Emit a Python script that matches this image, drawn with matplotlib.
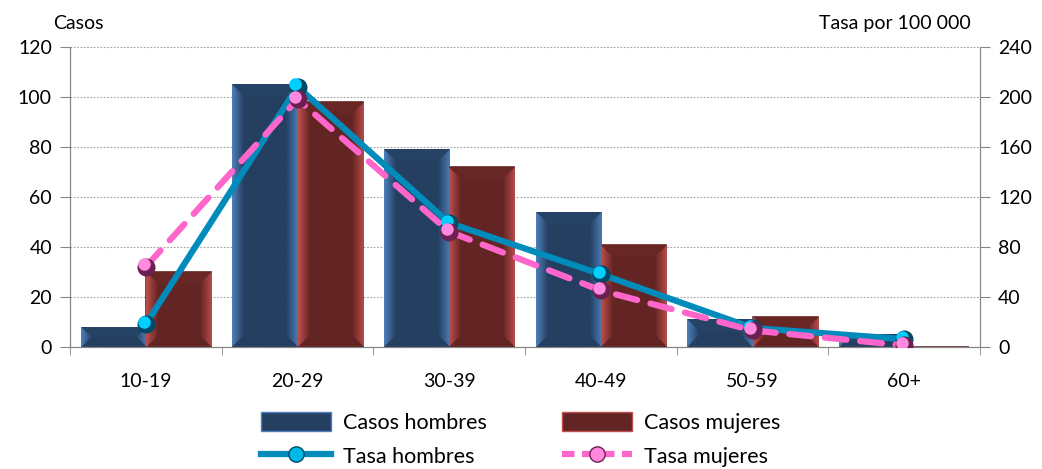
import matplotlib.pyplot as plt
import numpy as np
from matplotlib.lines import Line2D
from matplotlib.patches import Patch
from matplotlib.colors import to_rgb
from matplotlib.transforms import ScaledTranslation

plt.rcParams['font.family'] = ['Lato', 'DejaVu Sans']

# Data
grupos = ['10-19', '20-29', '30-39', '40-49', '50-59', '60+']
casos_hombres = [8, 105, 79, 54, 11, 5]
casos_mujeres = [30, 98, 72, 40.5, 12, 0]
tasa_hombres = [18, 208, 99, 58, 15, 6]
tasa_mujeres = [64, 198, 92, 45, 13, 1]

fig = plt.figure(figsize=(10.42, 4.69), dpi=100)
ax = fig.add_axes([0.0672, 0.2608, 0.8733, 0.6396])
x = np.arange(len(grupos))
w = 0.43

bars_h = ax.bar(x - w / 2, casos_hombres, w, color='#243F60', zorder=2)
bars_m = ax.bar(x + w / 2, casos_mujeres, w, color='#632523', zorder=2,
                edgecolor='#632523', linewidth=1.2)

ax.set_xlim(-0.5, len(grupos) - 0.5)
ax.set_ylim(0, 120)
ax.set_yticks(np.arange(0, 121, 20))
ax.yaxis.grid(True, linestyle=(0, (1.5, 1.5)), color='#A0A0A0', linewidth=0.8)
ax.set_axisbelow(True)
ax.set_xticks(x)
ax.set_xticklabels(grupos)
ax.set_xticks(np.arange(-0.5, len(grupos)), minor=True)
ax.tick_params(axis='x', which='major', length=0, pad=19, labelsize=14)
ax.tick_params(axis='x', which='minor', length=6, color='#868686')
ax.tick_params(axis='y', length=7, color='#868686', labelsize=14, pad=6)
for s in ['left', 'right', 'bottom']:
    ax.spines[s].set_color('#868686')
ax.spines['top'].set_visible(False)


def bevel(bar, face, light, top):
    # shade the bar like a beveled block: bright sides fading to the face color
    x0, y0 = bar.get_x(), bar.get_y()
    x1, y1 = x0 + bar.get_width(), y0 + bar.get_height()
    if y1 - y0 <= 0:
        return
    (px0, py0), (px1, py1) = ax.transData.transform([(x0, y0), (x1, y1)])
    wp, hp = px1 - px0, py1 - py0
    nx, ny = 130, max(int(hp * 2), 2)
    u = (np.arange(nx) + 0.5) / nx * wp
    v = (np.arange(ny) + 0.5) / ny * hp
    U, V = np.meshgrid(u, v[::-1])
    dl, dr, db, dt = U, wp - U, V, hp - V
    d = 12.0
    img = np.empty((ny, nx, 3))
    img[:] = to_rgb(face)
    fc, lc, tc = np.array(to_rgb(face)), np.array(to_rgb(light)), np.array(to_rgb(top))
    m = np.minimum(np.minimum(dl, dr), np.minimum(db, dt))
    left = (dl == m) & (dl < d)
    right = (dr == m) & (dr < d) & ~left
    topm = (dt == m) & (dt < d) & ~left & ~right
    t = np.clip(dl / d, 0, 1)[..., None]
    img = np.where(left[..., None], lc * (1 - t) + fc * t, img)
    t = np.clip(dr / d, 0, 1)[..., None]
    img = np.where(right[..., None], lc * (1 - t) * 0.9 + fc * (t + 0.1 * (1 - t)), img)
    img = np.where(topm[..., None], tc, img)
    ax.imshow(img, extent=(x0, x1, y0, y1), aspect='auto', zorder=2.5,
              interpolation='bilinear')


for b in bars_h:
    bevel(b, '#243F60', '#4F81BD', '#264366')
for b in bars_m:
    bevel(b, '#632523', '#C0504D', '#682725')
ax.set_xlim(-0.5, len(grupos) - 0.5)
ax.set_ylim(0, 120)

ax2 = ax.twinx()
ax2.set_ylim(0, 240)
ax2.set_yticks(np.arange(0, 241, 40))
ax2.tick_params(axis='y', length=7, color='#868686', labelsize=14, pad=6)
for s in ['left', 'right', 'bottom']:
    ax2.spines[s].set_color('#868686')
ax2.spines['top'].set_visible(False)

# small shift for the highlight on the sphere markers
hl = ax2.transData + ScaledTranslation(-1.6 / 72, 1.6 / 72, fig.dpi_scale_trans)

ax2.plot(x, tasa_hombres, color='#008BBA', linewidth=4.5, zorder=3)
ax2.plot(x, tasa_hombres, linestyle='none', marker='o', markersize=13,
         markerfacecolor='#004A66', markeredgewidth=0, zorder=3.1)
ax2.plot(x, tasa_hombres, linestyle='none', marker='o', markersize=9,
         markerfacecolor='#00CFFF', markeredgewidth=0, zorder=3.2,
         transform=hl)

ax2.plot(x, tasa_mujeres, color='#FF66CC', linewidth=4.5,
         linestyle=(0, (3.5, 2.2)), dash_capstyle='round', zorder=4)
ax2.plot(x, tasa_mujeres, linestyle='none', marker='o', markersize=13,
         markerfacecolor='#6A2050', markeredgewidth=0, zorder=4.1)
ax2.plot(x, tasa_mujeres, linestyle='none', marker='o', markersize=9,
         markerfacecolor='#FF8AE0', markeredgewidth=0, zorder=4.2,
         transform=hl)

fig.text(0.051, 0.95, 'Casos', fontsize=14, va='center', ha='left')
fig.text(0.932, 0.95, 'Tasa por 100 000', fontsize=14, va='center', ha='right')

handles = [
    Patch(facecolor='#243F60', edgecolor='#4F81BD'),
    Line2D([], [], color='#008BBA', linewidth=4.5, marker='o', markersize=11,
           markerfacecolor='#00B8E6', markeredgecolor='#004A66'),
    Patch(facecolor='#632523', edgecolor='#C0504D'),
    Line2D([], [], color='#FF66CC', linewidth=4.5, linestyle=(0, (2, 1.2)),
           marker='o', markersize=11, markerfacecolor='#FF88DD',
           markeredgecolor='#6A2050'),
]
labels = ['Casos hombres', 'Tasa hombres', 'Casos mujeres', 'Tasa mujeres']
fig.legend(handles, labels, ncol=2, loc='lower center',
           bbox_to_anchor=(0.4995, -0.036), frameon=False, fontsize=15.5,
           handlelength=3.25, handleheight=1.0, columnspacing=3.5,
           labelspacing=0.6, handletextpad=0.55)

fig.savefig('out.png', dpi=100)
